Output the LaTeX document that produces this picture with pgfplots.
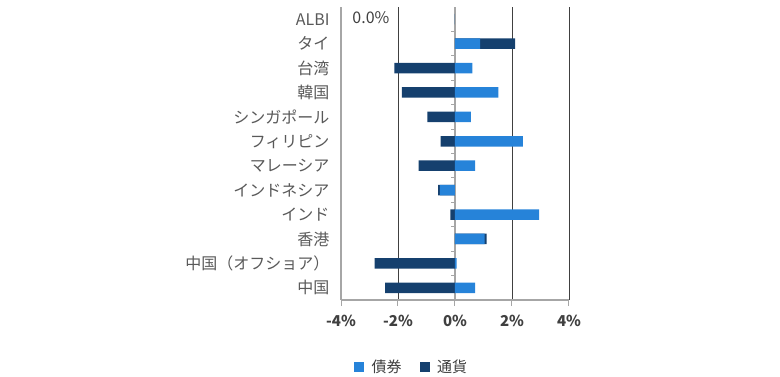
\documentclass[border=0pt]{standalone}
\usepackage{fontspec}
\setmainfont{Noto Sans CJK JP}
\usepackage{pgfplots}
\usepackage{pgfplotstable}
\pgfplotsset{compat=1.18}
\definecolor{bond}{HTML}{2683D9}
\definecolor{curr}{HTML}{15406E}
\definecolor{axgray}{HTML}{A6A6A6}
\definecolor{txt}{HTML}{404040}
\definecolor{lbl}{HTML}{595959}
% b = bond, c = currency, e = end of the stacked currency bar
\pgfplotstableread{
idx b c e
0 0.71 -2.45 -2.45
1 0.06 -2.82 -2.82
2 1.04 0.07 1.11
3 2.95 -0.16 -0.16
4 -0.53 -0.06 -0.59
5 0.71 -1.28 -1.28
6 2.38 -0.50 -0.50
7 0.56 -0.97 -0.97
8 1.52 -1.86 -1.86
9 0.61 -2.13 -2.13
10 0.88 1.23 2.11
11 0 0 0
}\datatable
\begin{document}
\begin{tikzpicture}
\path[use as bounding box] (0pt,0pt) rectangle (780pt,376pt);
\begin{axis}[
  at={(341pt,76pt)}, anchor=south west,
  scale only axis, width=228pt, height=293pt,
  xmin=-4, xmax=4, ymin=-0.5, ymax=11.5,
  xtick={-4,-2,0,2,4},
  xticklabel={\pgfmathprintnumber{\tick}\%},
  /pgf/number format/assume math mode=true,
  ytick={0,...,11},
  yticklabels={中国,中国（オフショア）,香港,インド,インドネシア,マレーシア,フィリピン,シンガポール,韓国,台湾,タイ,ALBI},
  axis x line*=bottom, axis y line*=left,
  axis line style={draw=axgray, line width=1.2pt},
  x axis line style={-}, y axis line style={-},
  tick align=outside, major tick length=6pt,
  x tick style={draw=axgray, line width=1pt},
  y tick style={draw=none},
  xmajorgrids, grid style={draw=txt, line width=0.9pt},
  x tick label style={font=\fontsize{15}{15}\selectfont\bfseries, text=txt, yshift=-6pt},
  y tick label style={font=\fontsize{16}{16}\selectfont, text=lbl, xshift=-2pt},
  xbar, bar width=10.5pt, bar shift=0pt,
  legend style={at={(0.31,-0.229)}, anchor=center, draw=none, legend columns=2,
    font=\fontsize{15}{15}\selectfont, text=txt,
    /tikz/every odd column/.append style={column sep=6pt},
    /tikz/every even column/.append style={column sep=16pt}},
  legend cell align=left,
  clip=false,
]
\draw[axgray, line width=1.2pt] (axis cs:0,-0.5) -- (axis cs:0,11.5);
\pgfplotsinvokeforeach{0.5,1.5,2.5,3.5,4.5,5.5,6.5,7.5,8.5,9.5,10.5}{
  \draw[axgray, line width=1pt] (axis cs:0,#1) -- ([xshift=-4pt]axis cs:0,#1);
}
\addplot[fill=curr, draw=none, forget plot] table[x=e, y=idx] {\datatable};
\addplot[fill=bond, draw=none, forget plot] table[x=b, y=idx] {\datatable};
\addlegendimage{legend image code/.code={\fill[bond] (0pt,-4.5pt) rectangle (9pt,4.5pt);}}
\addlegendentry{債券}
\addlegendimage{legend image code/.code={\fill[curr] (0pt,-4.5pt) rectangle (9pt,4.5pt);}}
\addlegendentry{通貨}
\node[font=\fontsize{16}{16}\selectfont, text=txt] at (axis cs:-2.95,11.05) {0.0\%};
\end{axis}
\end{tikzpicture}
\end{document}
